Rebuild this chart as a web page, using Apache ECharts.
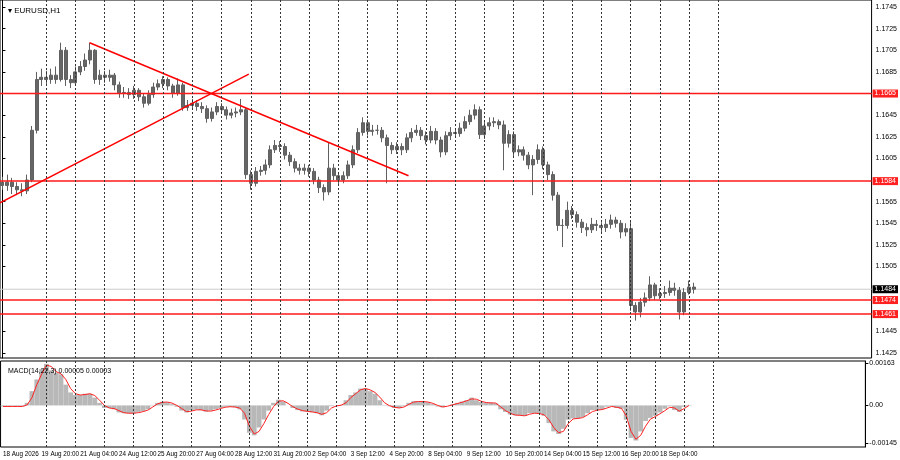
<!DOCTYPE html>
<html><head><meta charset="utf-8">
<script src="https://cdn.jsdelivr.net/npm/echarts@6/dist/echarts.min.js"></script>
<style>html,body{margin:0;padding:0;background:#fff}#c{width:900px;height:460px}</style>
</head><body><div id="c"></div>
<script>
const closes=[1.1580,1.1583,1.1579,1.1576,1.1575,1.1585,1.1631,1.1678,1.1680,1.1678,1.1682,1.1678,1.1705,1.1678,1.1675,1.1685,1.1690,1.1696,1.1705,1.1678,
1.1682,1.1680,1.1682,1.1673,1.1665,1.1666,1.1664,1.1668,1.1662,1.1656,1.1664,1.1671,1.1674,1.1678,1.1672,1.1665,1.1673,1.1652,1.1654,1.1656,
1.1653,1.1651,1.1642,1.1648,1.1653,1.1650,1.1645,1.1647,1.1648,1.1650,1.1590,1.1582,1.1593,1.1594,1.1599,1.1613,1.1617,1.1616,1.1608,1.1602,
1.1596,1.1594,1.1596,1.1593,1.1585,1.1578,1.1574,1.1596,1.1589,1.1585,1.1589,1.1599,1.1613,1.1629,1.1638,1.1630,1.1631,1.1631,1.1624,1.1617,
1.1613,1.1616,1.1613,1.1624,1.1629,1.1631,1.1626,1.1622,1.1630,1.1622,1.1611,1.1626,1.1629,1.1628,1.1633,1.1639,1.1645,1.1650,1.1627,1.1635,
1.1638,1.1639,1.1636,1.1619,1.1627,1.1611,1.1613,1.1608,1.1599,1.1604,1.1613,1.1599,1.1590,1.1571,1.1543,1.1543,1.1557,1.1553,1.1546,1.1541,
1.1539,1.1544,1.1543,1.1541,1.1544,1.1548,1.1545,1.1537,1.1540,1.1469,1.1463,1.1472,1.1476,1.1488,1.1478,1.1480,1.1481,1.1485,1.1483,1.1463,
1.1481,1.1486,1.1484];
const opens=[1.1583,1.1580,1.1583,1.1579,1.1576,1.1575,1.1585,1.1631,1.1678,1.1680,1.1678,1.1682,1.1678,1.1705,1.1678,1.1675,1.1685,1.1690,1.1696,1.1705,
1.1678,1.1682,1.1680,1.1682,1.1673,1.1665,1.1666,1.1664,1.1668,1.1662,1.1656,1.1664,1.1671,1.1674,1.1678,1.1672,1.1665,1.1673,1.1652,1.1654,
1.1656,1.1653,1.1651,1.1642,1.1648,1.1653,1.1650,1.1645,1.1647,1.1648,1.1650,1.1590,1.1582,1.1593,1.1594,1.1599,1.1613,1.1617,1.1616,1.1608,
1.1602,1.1596,1.1594,1.1596,1.1593,1.1585,1.1578,1.1574,1.1596,1.1589,1.1585,1.1589,1.1599,1.1613,1.1629,1.1638,1.1630,1.1631,1.1631,1.1624,
1.1617,1.1613,1.1616,1.1613,1.1624,1.1629,1.1631,1.1626,1.1622,1.1630,1.1622,1.1611,1.1626,1.1629,1.1628,1.1633,1.1639,1.1645,1.1650,1.1627,
1.1635,1.1638,1.1639,1.1636,1.1619,1.1627,1.1611,1.1613,1.1608,1.1599,1.1604,1.1613,1.1599,1.1590,1.1571,1.1543,1.1543,1.1557,1.1553,1.1546,
1.1541,1.1539,1.1544,1.1543,1.1541,1.1544,1.1548,1.1545,1.1537,1.1540,1.1469,1.1463,1.1472,1.1476,1.1488,1.1478,1.1480,1.1481,1.1485,1.1483,
1.1463,1.1481,1.1486];
const highs=[1.1588,1.1590,1.1587,1.1583,1.1582,1.1590,1.1635,1.1685,1.1688,1.1686,1.1688,1.1690,1.1712,1.1708,1.1682,1.1690,1.1695,1.1702,1.1712,1.1706,
1.1687,1.1686,1.1687,1.1684,1.1676,1.1671,1.1670,1.1672,1.1670,1.1665,1.1668,1.1675,1.1678,1.1681,1.1680,1.1674,1.1679,1.1675,1.1659,1.1660,
1.1659,1.1657,1.1654,1.1652,1.1657,1.1656,1.1653,1.1651,1.1652,1.1660,1.1652,1.1594,1.1597,1.1598,1.1604,1.1617,1.1622,1.1621,1.1619,1.1611,
1.1605,1.1600,1.1600,1.1599,1.1596,1.1588,1.1581,1.1620,1.1600,1.1592,1.1593,1.1603,1.1617,1.1633,1.1643,1.1641,1.1636,1.1636,1.1634,1.1627,
1.1620,1.1620,1.1619,1.1628,1.1633,1.1636,1.1634,1.1630,1.1635,1.1633,1.1625,1.1630,1.1634,1.1633,1.1638,1.1644,1.1650,1.1655,1.1653,1.1639,
1.1643,1.1643,1.1641,1.1640,1.1631,1.1630,1.1617,1.1616,1.1611,1.1608,1.1618,1.1616,1.1602,1.1593,1.1574,1.1549,1.1565,1.1561,1.1556,1.1549,
1.1545,1.1550,1.1548,1.1546,1.1549,1.1553,1.1551,1.1548,1.1545,1.1548,1.1472,1.1476,1.1481,1.1496,1.1490,1.1485,1.1487,1.1492,1.1490,1.1486,
1.1485,1.1492,1.1490];
const lows=[1.1576,1.1575,1.1572,1.1571,1.1570,1.1572,1.1583,1.1628,1.1672,1.1673,1.1674,1.1674,1.1676,1.1672,1.1670,1.1673,1.1682,1.1686,1.1692,1.1674,
1.1673,1.1675,1.1676,1.1668,1.1661,1.1661,1.1660,1.1660,1.1658,1.1652,1.1654,1.1661,1.1668,1.1670,1.1668,1.1661,1.1663,1.1649,1.1649,1.1651,
1.1649,1.1647,1.1638,1.1639,1.1645,1.1646,1.1641,1.1642,1.1643,1.1645,1.1586,1.1576,1.1579,1.1589,1.1590,1.1596,1.1610,1.1611,1.1604,1.1598,
1.1592,1.1590,1.1590,1.1588,1.1581,1.1573,1.1566,1.1571,1.1585,1.1581,1.1582,1.1586,1.1596,1.1610,1.1626,1.1626,1.1626,1.1627,1.1620,1.1582,
1.1609,1.1609,1.1608,1.1610,1.1620,1.1626,1.1622,1.1618,1.1619,1.1618,1.1606,1.1608,1.1622,1.1624,1.1625,1.1630,1.1636,1.1641,1.1623,1.1623,
1.1631,1.1634,1.1632,1.1594,1.1615,1.1607,1.1607,1.1603,1.1595,1.1571,1.1600,1.1595,1.1585,1.1566,1.1538,1.1523,1.1540,1.1549,1.1541,1.1536,
1.1533,1.1536,1.1538,1.1536,1.1537,1.1540,1.1541,1.1531,1.1533,1.1464,1.1455,1.1458,1.1468,1.1473,1.1474,1.1475,1.1476,1.1478,1.1478,1.1456,
1.1460,1.1479,1.1480];
const macdHist=[-0.00004,-0.00004,-0.00004,-0.00004,-0.00004,0.0001,0.00055,0.0010,0.0014,0.0016,0.00135,0.00125,0.0012,0.0008,0.0005,0.0004,0.0004,0.00045,0.00045,0.0003,
0.0001,-0.0001,-0.0001,-0.00015,-0.00027,-0.0003,-0.0003,-0.0003,-0.00025,-0.00022,-0.00015,0.00002,0.0001,0.00014,0.00012,0.00005,-0.00005,-0.0002,-0.00027,-0.00018,
-0.00016,-0.00018,-0.00024,-0.0002,-0.00015,-0.0001,-0.00005,-0.00005,-0.00007,-0.00015,-0.00054,-0.00105,-0.00115,-0.00085,-0.00054,-0.0002,0.0001,0.00022,0.00015,0,
-0.0001,-0.00018,-0.00023,-0.00023,-0.00026,-0.0003,-0.00038,-0.0002,-0.00003,0,0.00002,0.0002,0.0004,0.0005,0.00065,0.00065,0.00055,0.00045,0.0002,0.00002,
-0.00003,-0.0001,-0.0001,-0.00003,0.0001,0.00016,0.00015,0.00015,0.00012,0.00005,-0.00004,-0.00007,0,0.00004,0.0001,0.00015,0.0002,0.0003,0.0002,0.00013,
0.0001,0.0001,0.00008,-0.00015,-0.00025,-0.00035,-0.00038,-0.00038,-0.0004,-0.0003,-0.0003,-0.00032,-0.0004,-0.00068,-0.001,-0.0011,-0.0009,-0.00055,-0.0005,-0.0005,
-0.00045,-0.0003,-0.00018,-0.00018,-0.00015,-0.00005,-0.00003,-0.0001,-0.00013,-0.00055,-0.00125,-0.00135,-0.001,-0.0006,-0.00048,-0.0004,-0.00027,-0.00013,-0.00003,-0.00018,
-0.00025,-0.00005,0.00002];
const macdSignal=[-0.00004,-0.00004,-0.00004,-0.00004,-0.00004,0.00002,0.0003,0.0008,0.0012,0.00155,0.0015,0.0013,0.00122,0.0010,0.00065,0.00045,0.0004,0.00042,0.00045,0.00038,
0.0002,0.0000,-0.0001,-0.00012,-0.0002,-0.00028,-0.0003,-0.0003,-0.00028,-0.00024,-0.00018,-0.00006,0.00006,0.00012,0.00013,0.00009,0.0000,-0.00012,-0.00024,-0.00022,
-0.00017,-0.00017,-0.00021,-0.00022,-0.00018,-0.00012,-0.00007,-0.00005,-0.00006,-0.0001,-0.0003,-0.0008,-0.0011,-0.001,-0.0007,-0.00035,-0.00005,0.00016,0.00018,0.00008,
-0.00005,-0.00014,-0.0002,-0.00023,-0.00025,-0.00028,-0.00034,-0.00028,-0.0001,-0.00002,0.00001,0.0001,0.0003,0.00045,0.0006,0.00065,0.0006,0.0005,0.00032,0.0001,
-0.00001,-0.00007,-0.0001,-0.00006,0.00004,0.00013,0.00015,0.00015,0.00013,0.00008,0.0000,-0.00006,-0.00003,0.00002,0.00007,0.00012,0.00018,0.00025,0.00024,0.00016,
0.00011,0.0001,0.00009,-0.00005,-0.0002,-0.0003,-0.00037,-0.00038,-0.0004,-0.00034,-0.0003,-0.00031,-0.00036,-0.00055,-0.00085,-0.00105,-0.001,-0.0007,-0.00052,-0.0005,
-0.00047,-0.00036,-0.00024,-0.00018,-0.00016,-0.0001,-0.00004,-0.00007,-0.00011,-0.0004,-0.001,-0.0013,-0.00115,-0.0008,-0.00053,-0.00043,-0.00032,-0.0002,-0.00007,-0.0001,
-0.00022,-0.00012,0.0];
const xLabels=['18 Aug 2026','19 Aug 20:00','21 Aug 04:00','24 Aug 12:00','25 Aug 20:00','27 Aug 04:00','28 Aug 12:00','31 Aug 20:00','2 Sep 04:00','3 Sep 12:00','4 Sep 20:00','8 Sep 04:00','9 Sep 12:00','10 Sep 20:00','14 Sep 04:00','15 Sep 12:00','16 Sep 20:00','18 Sep 04:00'];
const priceTicks=[1.1745,1.1725,1.1705,1.1685,1.1645,1.1625,1.1605,1.1565,1.1545,1.1525,1.1505,1.1445,1.1425];
const macdTicks=[0.00163,0,-0.00145];
const levels=[1.1665,1.1584,1.1474,1.1461];
const lastPrice=1.1484;
const trendDown=[[17.9,1.1712],[83.4,1.1589]];
const trendUp=[[-0.5,1.1564],[50.6,1.1683]];
const gridIdx=[9,15,21,27,33,39,45,51,57,63,69,75,81,87,93,99,105,111,117,123,129,135,141,147];

const N=179;
const cats=[];for(let i=0;i<N;i++)cats.push(String(i));
const candle=closes.map((c,i)=>[opens[i],c,lows[i],highs[i]]);
const font='Liberation Sans';
const vlines={silent:true,symbol:'none',label:{show:false},lineStyle:{color:'#333',type:[2,2],width:1},data:gridIdx.map(i=>({xAxis:i}))};
const hSeries=(v,col,bg,w,z)=>({type:'line',xAxisIndex:2,yAxisIndex:0,data:[[-0.5,v],[N-0.5,v]],symbol:'none',silent:true,z:z,
  lineStyle:{color:col,width:w},
  endLabel:{show:true,distance:1,formatter:()=>v.toFixed(4),color:'#fff',backgroundColor:bg,padding:[1,2,0,2],fontSize:7,fontFamily:font}});
const chart=echarts.init(document.getElementById('c'),null,{renderer:'canvas'});
chart.setOption({
animation:false,
title:[{text:'▾ EURUSD,H1',left:3,top:2,textStyle:{fontSize:8,fontWeight:'normal',color:'#000',fontFamily:font}},
{text:'MACD(14,22,3) 0.00005 0.00003',left:3,top:363,textStyle:{fontSize:7,fontWeight:'normal',color:'#000',fontFamily:font}}],
grid:[{left:0,right:25,top:0,height:358,show:true,borderColor:'#000',borderWidth:1},
{left:0,right:25,top:361,height:86,show:true,borderColor:'#000',borderWidth:1}],
xAxis:[{type:'category',gridIndex:0,data:cats,boundaryGap:true,axisLine:{show:false},axisTick:{show:false},axisLabel:{show:false},splitLine:{show:false}},
{type:'category',gridIndex:1,data:cats,boundaryGap:true,axisLine:{show:false},axisTick:{show:false},splitLine:{show:false},
 axisLabel:{show:true,interval:0,hideOverlap:false,formatter:(v,i)=>(i%8===0&&xLabels[i/8])?xLabels[i/8]:'',align:'left',margin:4,fontSize:6.3,color:'#000',fontFamily:font}},
{type:'value',gridIndex:0,min:-0.5,max:N-0.5,show:false}],
yAxis:[{type:'value',gridIndex:0,position:'right',min:1.14204,max:1.17515,scale:true,splitLine:{show:false},axisLine:{show:true,lineStyle:{color:'#000'}},
 axisTick:{show:true,length:3,customValues:priceTicks,lineStyle:{color:'#000'}},axisLabel:{customValues:priceTicks,formatter:v=>v.toFixed(4),fontSize:7,color:'#000',margin:4,fontFamily:font}},
{type:'value',gridIndex:1,position:'right',min:-0.0016,max:0.00171,splitLine:{show:false},axisLine:{show:true,lineStyle:{color:'#000'}},
 axisTick:{show:true,length:3,customValues:macdTicks,lineStyle:{color:'#000'}},axisLabel:{customValues:macdTicks,formatter:v=>v===0?'0.00':v.toFixed(5),fontSize:7,color:'#000',margin:4,fontFamily:font}}],
series:[
hSeries(lastPrice,'#cccccc','#000',1,1),
...levels.map(v=>hSeries(v,'#ff1a1a','#ff2020',1.5,3)),
{type:'candlestick',xAxisIndex:0,yAxisIndex:0,data:candle,barWidth:3.5,z:2,
 itemStyle:{color:'#666666',color0:'#666666',borderColor:'#606060',borderColor0:'#606060',borderWidth:1},
 markLine:vlines},
{type:'line',xAxisIndex:2,yAxisIndex:0,data:trendDown,symbol:'none',z:4,lineStyle:{color:'#ff0000',width:1.5}},
{type:'line',xAxisIndex:2,yAxisIndex:0,data:trendUp,symbol:'none',z:4,lineStyle:{color:'#ff0000',width:1.5}},
{type:'bar',xAxisIndex:1,yAxisIndex:1,data:macdHist,barCategoryGap:'0%',itemStyle:{color:'#b8b8b8'},markLine:vlines},
{type:'line',xAxisIndex:1,yAxisIndex:1,data:macdSignal,symbol:'none',lineStyle:{color:'#ff2020',width:1}}
]});
</script></body></html>
